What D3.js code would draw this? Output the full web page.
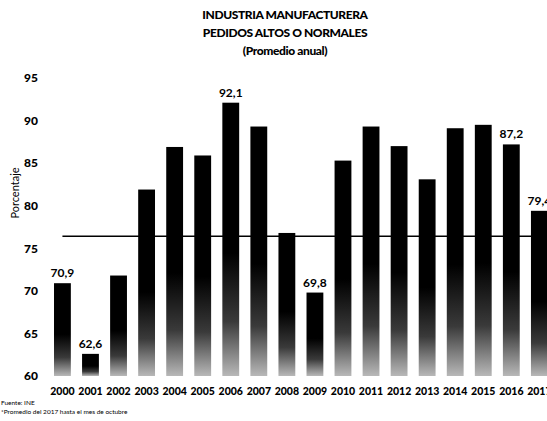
<!DOCTYPE html>
<html>
<head>
<meta charset="utf-8">
<script src="https://cdn.jsdelivr.net/npm/d3@7"></script>
<style>
  body { margin: 0; background: #fff; }
  svg { display: block; font-family: Lato, "Open Sans", sans-serif; }
</style>
</head>
<body>
<svg id="chart" width="547" height="421"></svg>
<script>
// data
const years = ["2000", "2001", "2002", "2003", "2004", "2005", "2006", "2007", "2008",
  "2009", "2010", "2011", "2012", "2013", "2014", "2015", "2016", "2017"];
const values = [70.9, 62.6, 71.8, 81.9, 86.9, 85.9, 92.1, 89.3, 76.8,
  69.8, 85.3, 89.3, 87.0, 83.1, 89.1, 89.5, 87.2, 79.4];
const labelledYears = ["2000", "2001", "2006", "2009", "2016", "2017"];
const refLine = 76.4;
const yTicks = [60, 65, 70, 75, 80, 85, 90, 95];
const titleLines = ["INDUSTRIA MANUFACTURERA", "PEDIDOS ALTOS O NORMALES", "(Promedio anual)"];
const notes = ["Fuente: INE", "*Promedio del 2017 hasta el mes de octubre"];

const svg = d3.select("#chart");
const width = +svg.attr("width");

const x = d3.scaleBand()
  .domain(years)
  .range([48.4, 553.4])
  .paddingInner(0.4)
  .paddingOuter(0.2);

const y = d3.scaleLinear().domain([60, 95]).range([376, 78]);

// fading bottom of the bars
const grad = svg.append("defs").append("linearGradient")
  .attr("id", "fade")
  .attr("x1", 0).attr("y1", 0).attr("x2", 0).attr("y2", 1);
grad.append("stop").attr("offset", 0).attr("stop-color", "#000");
grad.append("stop").attr("offset", 0.55).attr("stop-color", "#000");
grad.append("stop").attr("offset", 0.8).attr("stop-color", "#3a3a3a");
grad.append("stop").attr("offset", 1).attr("stop-color", "#b8b8b8");

// title
svg.append("g")
  .selectAll("text")
  .data(titleLines)
  .join("text")
  .attr("x", 285)
  .attr("y", (d, i) => 19 + i * 18)
  .attr("text-anchor", "middle")
  .attr("font-size", 12)
  .attr("font-weight", 900)
  .attr("letter-spacing", -0.4)
  .text((d) => d);

// y axis labels
const yAxis = svg.append("g")
  .attr("transform", "translate(38,0)")
  .call(d3.axisLeft(y).tickValues(yTicks).tickSize(0).tickPadding(0));
yAxis.select(".domain").remove();
yAxis.selectAll("text")
  .attr("font-family", "Lato, sans-serif")
  .attr("font-size", 12)
  .attr("font-weight", 900)
  .attr("fill", "#000");

svg.append("text")
  .attr("transform", "translate(19,193) rotate(-90)")
  .attr("text-anchor", "middle")
  .attr("font-size", 11)
  .text("Porcentaje");

// bars
svg.append("g")
  .selectAll("rect")
  .data(values)
  .join("rect")
  .attr("x", (d, i) => x(years[i]))
  .attr("y", (d) => y(d))
  .attr("width", x.bandwidth())
  .attr("height", (d) => y(60) - y(d))
  .attr("fill", "url(#fade)");

// reference line
svg.append("line")
  .attr("x1", x(years[0]) + x.bandwidth() / 2)
  .attr("x2", width)
  .attr("y1", y(refLine))
  .attr("y2", y(refLine))
  .attr("stroke", "#000")
  .attr("stroke-width", 1.5);

// value labels
svg.append("g")
  .selectAll("text")
  .data(years.map((yr, i) => ({ yr, v: values[i] })).filter((d) => labelledYears.includes(d.yr)))
  .join("text")
  .attr("x", (d) => x(d.yr) + x.bandwidth() / 2)
  .attr("y", (d) => y(d.v) - 6)
  .attr("text-anchor", "middle")
  .attr("font-size", 12)
  .attr("font-weight", 700)
  .text((d) => d.v.toFixed(1).replace(".", ","));

// x axis labels
const xAxis = svg.append("g")
  .attr("transform", "translate(0,388)")
  .call(d3.axisBottom(x).tickSize(0).tickPadding(0));
xAxis.select(".domain").remove();
xAxis.selectAll("text")
  .attr("font-family", "Lato, sans-serif")
  .attr("font-size", 10.5)
  .attr("font-weight", 900)
  .attr("fill", "#000");

// footnotes
svg.append("g")
  .selectAll("text")
  .data(notes)
  .join("text")
  .attr("x", 1)
  .attr("y", (d, i) => 405 + i * 9)
  .attr("font-size", 6.5)
  .text((d) => d);
</script>
</body>
</html>
